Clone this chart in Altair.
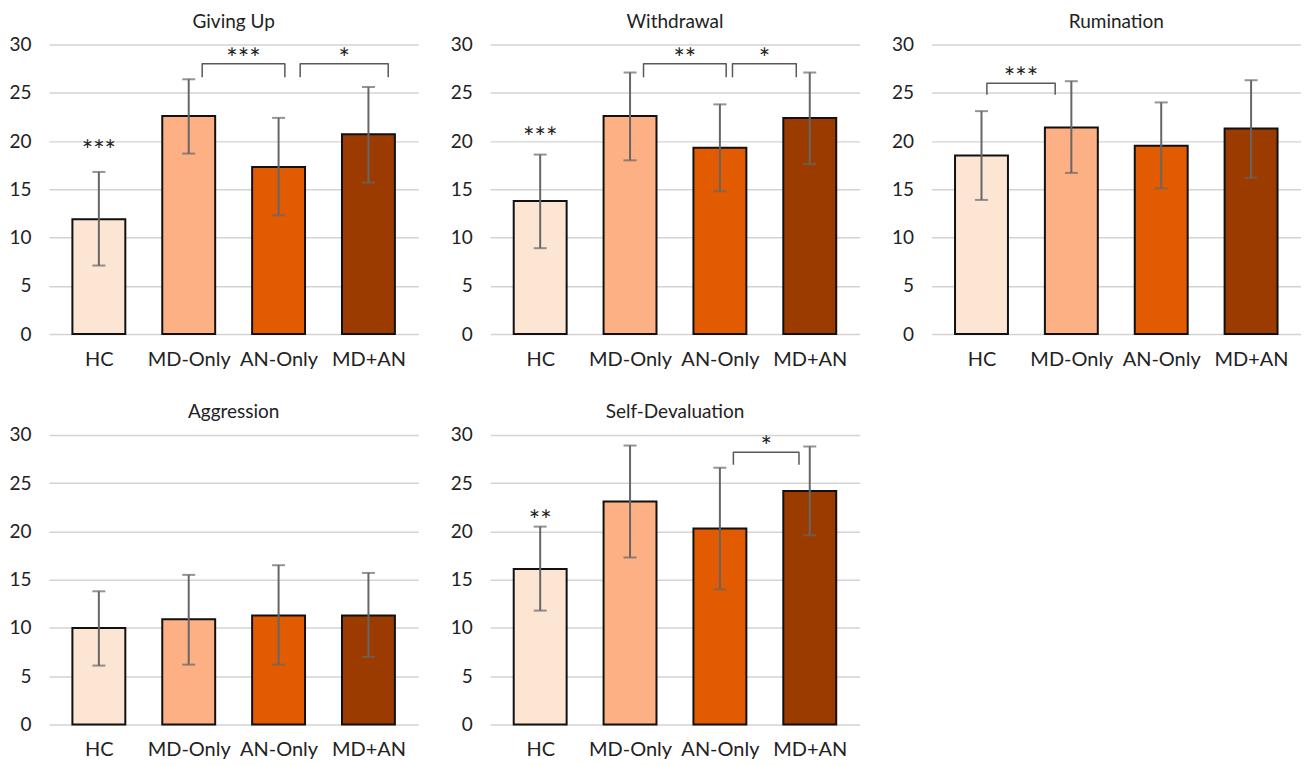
import altair as alt
import pandas as pd

groups = ["HC", "MD-Only", "AN-Only", "MD+AN"]
colors = ["#FDE5D4", "#FDB083", "#E35B00", "#9C3B00"]

titles = ["Giving Up", "Withdrawal", "Rumination", "Aggression", "Self-Devaluation"]
means = {
    "Giving Up": [11.9, 22.6, 17.3, 20.7],
    "Withdrawal": [13.8, 22.6, 19.3, 22.4],
    "Rumination": [18.5, 21.4, 19.5, 21.3],
    "Aggression": [10.0, 10.9, 11.3, 11.3],
    "Self-Devaluation": [16.1, 23.1, 20.3, 24.2],
}
err_hi = {
    "Giving Up": [16.8, 26.4, 22.4, 25.6],
    "Withdrawal": [18.6, 27.1, 23.8, 27.1],
    "Rumination": [23.1, 26.2, 24.0, 26.3],
    "Aggression": [13.8, 15.5, 16.5, 15.7],
    "Self-Devaluation": [20.5, 28.9, 26.6, 28.8],
}
err_lo = {
    "Giving Up": [7.1, 18.7, 12.3, 15.7],
    "Withdrawal": [8.9, 18.0, 14.8, 17.6],
    "Rumination": [13.9, 16.7, 15.1, 16.2],
    "Aggression": [6.1, 6.2, 6.2, 7.0],
    "Self-Devaluation": [11.8, 17.3, 14.0, 19.6],
}
# brackets: (panel, x_start, x_end, y_top, y_tip, label) in category units
bracket_panel = ["Giving Up", "Giving Up", "Withdrawal", "Withdrawal", "Rumination", "Self-Devaluation"]
bracket_x1 = [1.15, 2.24, 1.15, 2.14, 0.06, 2.15]
bracket_x2 = [2.07, 3.22, 2.07, 2.85, 0.82, 2.88]
bracket_top = [28.0, 28.0, 28.0, 28.0, 26.0, 28.2]
bracket_tip = [26.6, 26.6, 26.6, 26.6, 24.8, 26.9]
bracket_label = ["***", "*", "**", "*", "***", "*"]
# stars above single bars
single_panel = ["Giving Up", "Withdrawal", "Self-Devaluation"]
single_x = [0, 0, 0]
single_y = [19.4, 20.8, 21.6]
single_label = ["***", "***", "**"]

FONT = "Lato"
label_expr = "[" + ",".join("'" + g + "'" for g in groups) + "][datum.value]"


def panel(name):
    bars = pd.DataFrame({
        "pos": list(range(len(groups))),
        "group": groups,
        "mean": means[name],
        "hi": err_hi[name],
        "lo": err_lo[name],
    })
    xenc = alt.X("pos:Q", scale=alt.Scale(domain=[-0.5, 3.5], nice=False, zero=False),
                 axis=alt.Axis(values=[0, 1, 2, 3], labelExpr=label_expr, title=None,
                               grid=False, domain=False, ticks=False, labelPadding=15,
                               labelFontSize=20, labelFont=FONT, labelColor="#222222"))
    yscale = alt.Scale(domain=[0, 30], nice=False)
    yaxis = alt.Axis(values=[0, 5, 10, 15, 20, 25, 30], title=None, domain=False, ticks=False,
                     grid=True, gridColor="#D3D3D3", gridWidth=1.5, labelPadding=18,
                     labelFontSize=19, labelFont=FONT, labelColor="#222222")
    base = alt.Chart(bars)
    bar = base.mark_bar(width=53, stroke="#111111", strokeWidth=2).encode(
        x=xenc,
        y=alt.Y("mean:Q", scale=yscale, axis=yaxis),
        color=alt.Color("group:N", scale=alt.Scale(domain=groups, range=colors), legend=None),
    )
    rule = base.mark_rule(color="#666666", strokeWidth=2).encode(
        x="pos:Q", y="lo:Q", y2="hi:Q")
    cap_hi = base.mark_tick(color="#666666", orient="horizontal", size=13, thickness=2).encode(
        x="pos:Q", y="hi:Q")
    cap_lo = base.mark_tick(color="#666666", orient="horizontal", size=13, thickness=2).encode(
        x="pos:Q", y="lo:Q")
    layers = [bar, rule, cap_hi, cap_lo]

    rows = []
    stars = []
    for i, p in enumerate(bracket_panel):
        if p != name:
            continue
        pts = [(bracket_x1[i], bracket_tip[i]), (bracket_x1[i], bracket_top[i]),
               (bracket_x2[i], bracket_top[i]), (bracket_x2[i], bracket_tip[i])]
        for k, (bx, by) in enumerate(pts):
            rows.append({"id": i, "ord": k, "bx": bx, "by": by})
        stars.append({"sx": (bracket_x1[i] + bracket_x2[i]) / 2, "sy": bracket_top[i], "txt": bracket_label[i]})
    for i, p in enumerate(single_panel):
        if p != name:
            continue
        stars.append({"sx": single_x[i], "sy": single_y[i] - 1.0, "txt": single_label[i]})
    if rows:
        br = alt.Chart(pd.DataFrame(rows)).mark_line(color="#595959", strokeWidth=1.5,
                                                     strokeJoin="round").encode(
            x="bx:Q", y="by:Q", detail="id:N", order="ord:Q")
        layers.append(br)
    if stars:
        st = alt.Chart(pd.DataFrame(stars)).mark_text(font=FONT, fontSize=27, baseline="bottom",
                                                      dy=10, color="#222222").encode(
            x="sx:Q", y="sy:Q", text="txt:N")
        layers.append(st)
    return alt.layer(*layers).properties(
        width=370, height=290,
        title=alt.TitleParams(name, fontSize=19, font=FONT, fontWeight="normal",
                              color="#222222", anchor="middle", offset=4),
    )


row1 = alt.hconcat(panel("Giving Up"), panel("Withdrawal"), panel("Rumination"), spacing=31)
row2 = alt.hconcat(panel("Aggression"), panel("Self-Devaluation"), spacing=31)
chart = alt.vconcat(row1, row2, spacing=34).properties(
    padding={"top": 4, "left": 0, "right": 0, "bottom": 0}).configure_view(stroke=None)

chart.save("out.html", embed_options={"renderer": "svg", "actions": False})
